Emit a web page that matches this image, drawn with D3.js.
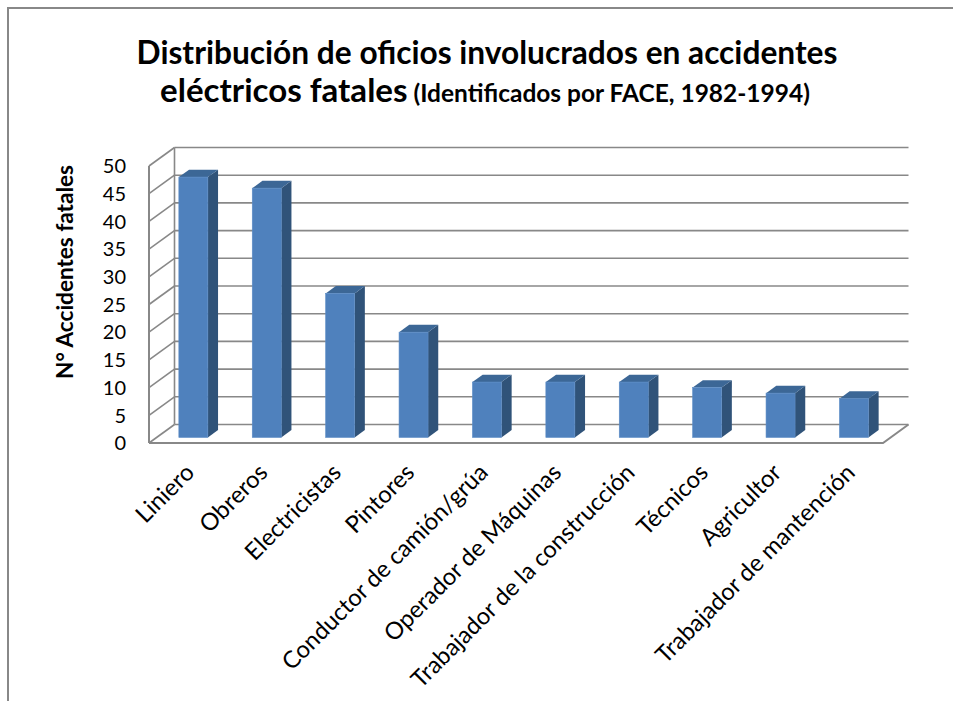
<!DOCTYPE html>
<html>
<head>
<meta charset="utf-8">
<script src="https://cdn.jsdelivr.net/npm/d3@7"></script>
<style>
  body { margin: 0; background: #fff; }
  text { font-family: Lato, "Open Sans", sans-serif; fill: #000; }
</style>
</head>
<body>
<svg width="953" height="701"></svg>
<script>
// data
const categories = [
    "Liniero", "Obreros", "Electricistas", "Pintores", "Conductor de camión/grúa",
    "Operador de Máquinas", "Trabajador de la construcción", "Técnicos", "Agricultor",
    "Trabajador de mantención"
];
const fatalities = [47, 45, 26, 19, 10, 10, 10, 9, 8, 7];
const yTicks = [0, 5, 10, 15, 20, 25, 30, 35, 40, 45, 50];
const titleMain = "Distribución de oficios involucrados en accidentes";
const titleSecond = "eléctricos fatales";
const titleNote = " (Identificados por FACE, 1982-1994)";
const yTitle = "N° Accidentes fatales";

const svg = d3.select("svg");
const grid = "#888888";

// depth of the 3d box (back wall is shifted by this vector)
const depth = {dx: 25.5, dy: -18.5};

const x = d3.scaleBand().domain(categories).range([149, 883]);
const y = d3.scaleLinear().domain([0, 50]).range([443, 166]);

/**
 * shrink or grow font size of a text node so that it gets the wanted width
 * returns the scale factor used
 */
function fitWidth(node, width) {
    let w = node.getComputedTextLength();
    let k = width / w;
    let nodes = [node].concat(Array.from(node.querySelectorAll("tspan")));
    nodes.forEach(function (n) {
        let size = parseFloat(d3.select(n).style("font-size"));
        d3.select(n).style("font-size", (size * k) + "px");
    });
    return k;
}

// chart frame
svg.append("rect")
    .attr("x", 8).attr("y", 8)
    .attr("width", 960).attr("height", 720)
    .attr("fill", "none")
    .attr("stroke", grid)
    .attr("stroke-width", 2);

// back wall gridlines
svg.selectAll(".grid")
    .data(yTicks)
    .enter().append("line")
    .attr("class", "grid")
    .attr("x1", 149 + depth.dx)
    .attr("x2", 883 + depth.dx)
    .attr("y1", d => y(d) + depth.dy)
    .attr("y2", d => y(d) + depth.dy)
    .attr("stroke", grid)
    .attr("stroke-width", 1.6);

// side wall diagonals
svg.selectAll(".side")
    .data(yTicks)
    .enter().append("line")
    .attr("class", "side")
    .attr("x1", 149)
    .attr("x2", 149 + depth.dx)
    .attr("y1", d => y(d))
    .attr("y2", d => y(d) + depth.dy)
    .attr("stroke", grid)
    .attr("stroke-width", 1.6);

svg.append("line")
    .attr("x1", 149 + depth.dx).attr("x2", 149 + depth.dx)
    .attr("y1", y(0) + depth.dy).attr("y2", y(50) + depth.dy)
    .attr("stroke", grid).attr("stroke-width", 1.6);

svg.append("line")
    .attr("x1", 149).attr("x2", 149)
    .attr("y1", y(0)).attr("y2", y(50))
    .attr("stroke", grid).attr("stroke-width", 2);

// floor
svg.append("path")
    .attr("d", "M149," + y(0) + "L883," + y(0) + "L" + (883 + depth.dx) + "," + (y(0) + depth.dy))
    .attr("fill", "none")
    .attr("stroke", grid)
    .attr("stroke-width", 2);

// bars (front face sits at 0.3 of depth, back at 0.7)
const bw = x.bandwidth() * 0.395;
const f = 0.3, d = 0.4;
const bars = svg.selectAll(".bar")
    .data(categories.map((c, i) => ({name: c, value: fatalities[i]})))
    .enter().append("g")
    .attr("class", "bar");

bars.each(function (b) {
    let g = d3.select(this);
    let x0 = x(b.name) + (x.bandwidth() - bw) / 2 + f * depth.dx;
    let x1 = x0 + bw;
    let yt = y(b.value) + f * depth.dy;
    let yb = y(0) + f * depth.dy;
    let ox = d * depth.dx, oy = d * depth.dy;

    g.append("polygon")
        .attr("points", [[x1, yt], [x1 + ox, yt + oy], [x1 + ox, yb + oy], [x1, yb]].join(" "))
        .attr("fill", "#305379");
    g.append("polygon")
        .attr("points", [[x0, yt], [x1, yt], [x1 + ox, yt + oy], [x0 + ox, yt + oy]].join(" "))
        .attr("fill", "#3c6796");
    g.append("rect")
        .attr("x", x0).attr("y", yt)
        .attr("width", bw).attr("height", yb - yt)
        .attr("fill", "#4f81bd")
        .attr("stroke", "#5b8cc6")
        .attr("stroke-width", 0.6);
});

// y tick labels
svg.selectAll(".ytick")
    .data(yTicks)
    .enter().append("text")
    .attr("class", "ytick")
    .attr("x", 126)
    .attr("y", d => y(d))
    .attr("dy", "0.36em")
    .attr("text-anchor", "end")
    .style("font-size", "20px")
    .text(d => d);

// x labels, sized so the longest one matches the picture
const xl = svg.selectAll(".xlab")
    .data(categories)
    .enter().append("text")
    .attr("class", "xlab")
    .attr("text-anchor", "end")
    .attr("transform", c => "translate(" + (x(c) + x.bandwidth() / 2 + 10) + ",474) rotate(-45)")
    .style("font-size", "19px")
    .text(c => c);
let longest = xl.filter(c => c === "Trabajador de mantención").node();
let labelSize = 19 * 270 / longest.getComputedTextLength();
xl.style("font-size", labelSize + "px");

// y axis title
svg.append("text")
    .attr("transform", "translate(73,272) rotate(-90)")
    .attr("text-anchor", "middle")
    .style("font-size", "18px")
    .style("font-weight", "bold")
    .text(yTitle)
    .each(function () { fitWidth(this, 214); });

// title
svg.append("text")
    .attr("x", 487).attr("y", 64)
    .attr("text-anchor", "middle")
    .style("font-size", "27px")
    .style("font-weight", "bold")
    .text(titleMain)
    .each(function () { fitWidth(this, 701); });

let t2 = svg.append("text")
    .attr("x", 485).attr("y", 102)
    .attr("text-anchor", "middle")
    .style("font-size", "27px")
    .style("font-weight", "bold");
t2.append("tspan").style("font-size", "27px").text(titleSecond);
t2.append("tspan").style("font-size", "20px").text(titleNote);
fitWidth(t2.node(), 650);
</script>
</body>
</html>
